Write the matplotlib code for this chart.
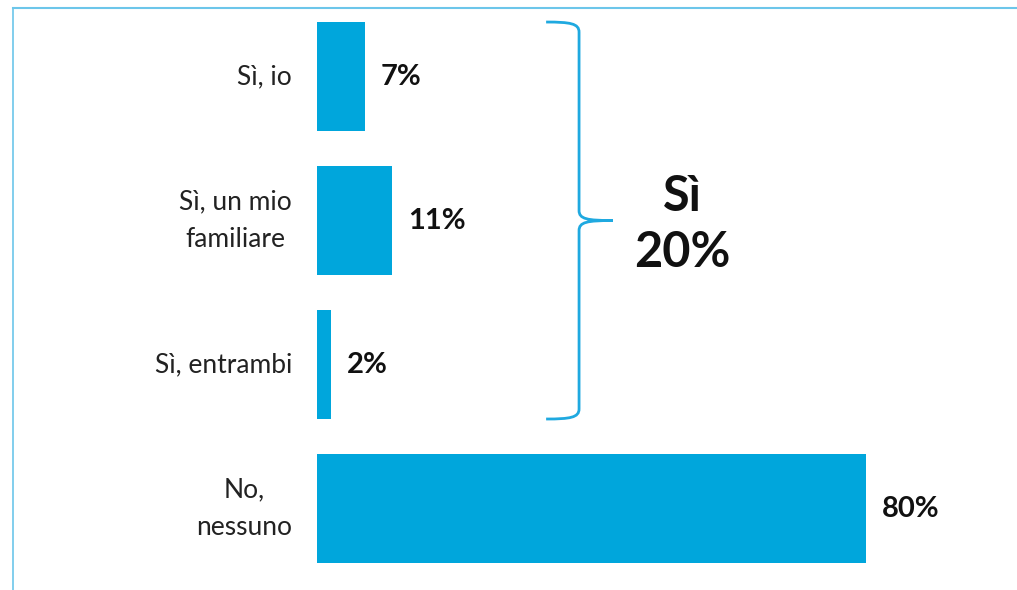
"""Horizontal bar chart with a brace grouping the 'Sì' answers."""

import matplotlib
matplotlib.use("Agg")
import matplotlib.pyplot as plt
from matplotlib.path import Path
from matplotlib.patches import PathPatch
from matplotlib.lines import Line2D

# ── Data ──────────────────────────────────────────────────────────────────────
categories = ["Sì, io", "Sì, un mio\nfamiliare", "Sì, entrambi", "No,\nnessuno"]
values = [7, 11, 2, 80]
group_label = "Sì\n20%"
group_members = [0, 1, 2]

# ── Style ─────────────────────────────────────────────────────────────────────
BAR_COLOR   = "#00A6DC"
BRACE_COLOR = "#1FA9E0"
FRAME_COLOR = "#6CC6EA"
FONT        = ["Lato", "DejaVu Sans"]
BAR_HEIGHT  = 0.757

plt.rcParams["font.family"] = FONT

fig = plt.figure(figsize=(10.17, 5.9), dpi=100)
ax = fig.add_axes([317 / 1017, 0, 686 / 1017, 582 / 590])

pos = list(range(len(categories)))
ax.barh(pos, values, height=BAR_HEIGHT, color=BAR_COLOR)

ax.set_xlim(0, 100)
ax.set_ylim(3.566, -0.476)
ax.set_xticks([])
ax.set_yticks([])
for s in ax.spines.values():
    s.set_visible(False)

# category labels, right-aligned left of the bars
for i, lab in zip(pos, categories):
    ax.annotate(lab, (0, i), xytext=(-18, 0), textcoords="offset points",
                ha="right", va="center", multialignment="center",
                fontsize=19, color="#222222", linespacing=1.6)

for i, v in zip(pos, values):
    ax.annotate(f"{v}%", (v, i), xytext=(11.5, 0), textcoords="offset points",
                ha="left", va="center", fontsize=21, fontweight="bold",
                color="#111111")

# brace around the 'Sì' bars
y0 = group_members[0] - BAR_HEIGHT / 2
y1 = group_members[-1] + BAR_HEIGHT / 2
ym = (y0 + y1) / 2
xs, xv, xt = 33.4, 38.2, 43.1      # start, spine, tip (in % units)
c = 0.07                            # curl height
verts = [
    (xs, y0), (xs + 3.5, y0), (xv, y0 + 0.01), (xv, y0 + c),
    (xv, ym - c),
    (xv, ym - 0.01), (xv + 1.2, ym), (xt, ym),
    (xv + 1.2, ym), (xv, ym + 0.01), (xv, ym + c),
    (xv, y1 - c),
    (xv, y1 - 0.01), (xs + 3.5, y1), (xs, y1),
]
codes = [Path.MOVETO, Path.CURVE4, Path.CURVE4, Path.CURVE4,
         Path.LINETO,
         Path.CURVE4, Path.CURVE4, Path.CURVE4,
         Path.CURVE4, Path.CURVE4, Path.CURVE4,
         Path.LINETO,
         Path.CURVE4, Path.CURVE4, Path.CURVE4]
ax.add_patch(PathPatch(Path(verts, codes), facecolor="none",
                       edgecolor=BRACE_COLOR, linewidth=2, clip_on=False))

ax.annotate(group_label, (53.2, ym), xytext=(0, -3), textcoords="offset points",
            ha="center", va="center", fontsize=35, fontweight="bold",
            color="#111111", linespacing=1.3)

# frame lines (left + top)
fig.add_artist(Line2D([13 / 1017, 13 / 1017], [0, 1 - 8 / 590],
                      color=FRAME_COLOR, linewidth=1.2))
fig.add_artist(Line2D([13 / 1017, 1], [1 - 8 / 590, 1 - 8 / 590],
                      color=FRAME_COLOR, linewidth=1.5))

fig.savefig("out.png", dpi=100)
